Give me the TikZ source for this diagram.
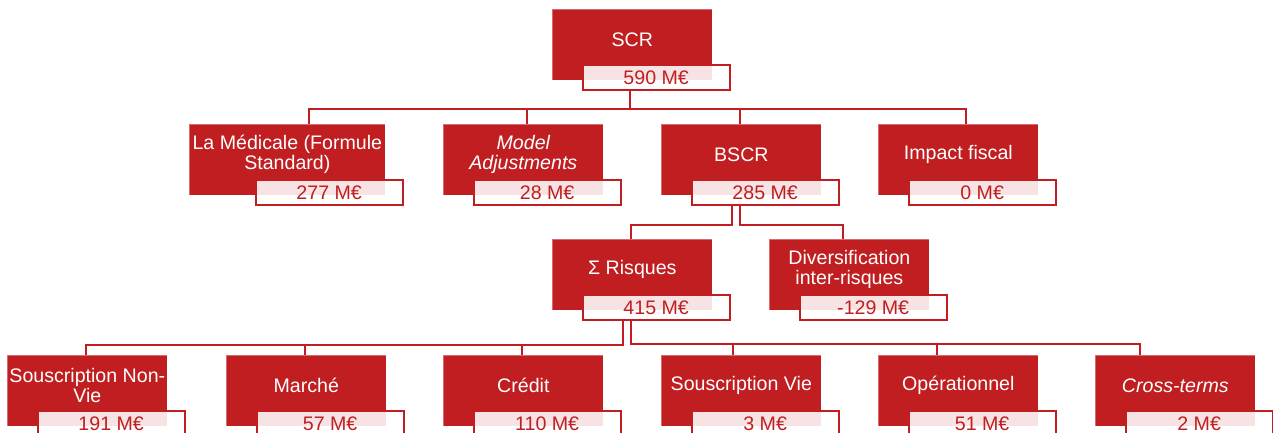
\documentclass[tikz,border=0pt]{standalone}
\usepackage{fontspec}
\setmainfont{Liberation Sans}
\usetikzlibrary{calc,backgrounds}
\definecolor{myred}{RGB}{192,30,32}

\tikzset{
  redbox/.style={rectangle, inner sep=0pt, anchor=north west, fill=myred,
    draw=white, draw opacity=0.35, line width=0.5pt, minimum height=71*0.75pt},
  valbox/.style={rectangle, inner sep=0pt, anchor=north east, fill=white, fill opacity=0.88,
    draw=myred, draw opacity=1, line width=1.5pt, minimum width=147*0.75pt,
    minimum height=25*0.75pt, text=myred, text opacity=1,
    font=\fontsize{14.7}{15}\selectfont},
  titletext/.style={text=white, align=center, inner sep=0pt,
    font=\fontsize{14.7}{15}\selectfont},
  conn/.style={draw=myred, line width=1.5pt},
}

% \orgbox{name}{left}{top}{width}{title}{value}
\newcommand{\orgbox}[6]{%
  \node[redbox, minimum width=#4*0.75pt] (#1) at (#2,#3) {};
  \node[titletext] (#1t) at ($(#1.north)+(0,30.5)$) {#5};
  \node[valbox] (#1v) at ($(#1.north east)+(18,55)$) {#6};
}

\begin{document}
\begin{tikzpicture}[x=0.75pt, y=-0.75pt]
\useasboundingbox (0,0) rectangle (1273,432);
\clip (0,0) rectangle (1273,432);

% columns where the connectors meet their boxes
\coordinate (cA) at (630,0);
\coordinate (c1) at (309,0);
\coordinate (c2) at (527,0);
\coordinate (c3) at (740,0);
\coordinate (c4) at (966,0);
\coordinate (bL) at (732,0);
\coordinate (bR) at (740,0);
\coordinate (r1) at (631,0);
\coordinate (r2) at (843,0);
\coordinate (sL) at (623,0);
\coordinate (sR) at (631,0);
\coordinate (f1) at (86,0);
\coordinate (f2) at (305,0);
\coordinate (f3) at (522,0);
\coordinate (f4) at (733,0);
\coordinate (f5) at (937,0);
\coordinate (f6) at (1140,0);

% level 0
\orgbox{scr}{552}{9}{160}{SCR}{590 M€}

% level 1
\orgbox{med}{189}{124}{196}{La Médicale (Formule\\Standard)}{277 M€}
\orgbox{mod}{443}{124}{160}{\itshape Model\\\itshape Adjustments}{28 M€}
\orgbox{bscr}{661}{124}{160}{BSCR}{285 M€}
\orgbox{imp}{878}{124}{160}{Impact fiscal}{0 M€}

% level 2
\orgbox{ris}{552}{239}{160}{Σ Risques}{415 M€}
\orgbox{div}{769}{239}{160}{Diversification\\inter-risques}{-129 M€}

% level 3
\orgbox{snv}{7}{355}{160}{Souscription Non-\\Vie}{191 M€}
\orgbox{mar}{226}{355}{160}{Marché}{57 M€}
\orgbox{cre}{443}{355}{160}{Crédit}{110 M€}
\orgbox{sv}{661}{355}{160}{Souscription Vie}{3 M€}
\orgbox{ope}{878}{355}{160}{Opérationnel}{51 M€}
\orgbox{ct}{1095}{355}{160}{\itshape Cross-terms}{2 M€}

% elbow connectors, beneath the boxes
\begin{pgfonlayer}{background}
  \foreach \child/\col in {med/c1, mod/c2, bscr/c3, imp/c4}
    \draw[conn] (scrv.south -| cA) -- ++(0,18) -| (\child.north -| \col);
  \draw[conn] (bscrv.south -| bL) -- ++(0,19) -| (ris.north -| r1);
  \draw[conn] (bscrv.south -| bR) -- ++(0,19) -| (div.north -| r2);
  \foreach \child/\col in {snv/f1, mar/f2, cre/f3}
    \draw[conn] (risv.south -| sL) -- ++(0,24) -| (\child.north -| \col);
  \foreach \child/\col in {sv/f4, ope/f5, ct/f6}
    \draw[conn] (risv.south -| sR) -- ++(0,23) -| (\child.north -| \col);
\end{pgfonlayer}
\end{tikzpicture}
\end{document}
